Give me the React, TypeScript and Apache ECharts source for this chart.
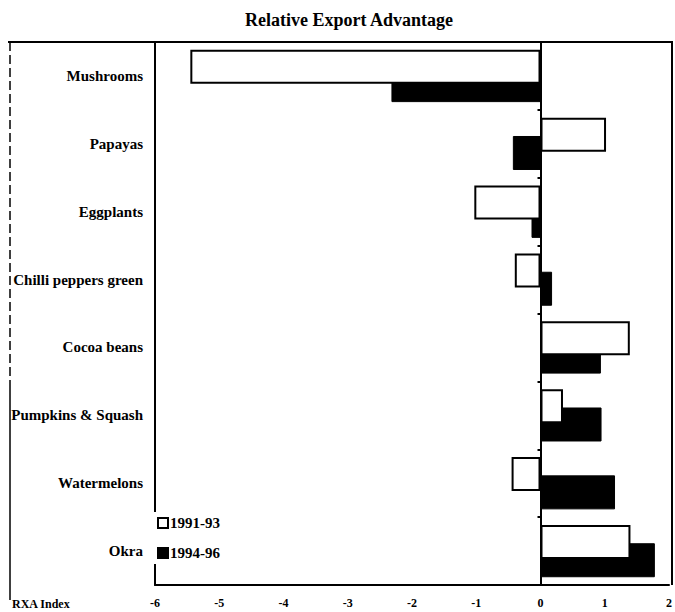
import React, { useEffect, useRef } from "react";
import * as echarts from "echarts";

const categories = [
  "Mushrooms",
  "Papayas",
  "Eggplants",
  "Chilli peppers green",
  "Cocoa beans",
  "Pumpkins & Squash",
  "Watermelons",
  "Okra",
];
const period1Name = "1991-93";
const period2Name = "1994-96";
const period1Values = [-5.45, 1.02, -1.03, -0.4, 1.39, 0.35, -0.45, 1.4];
const period2Values = [-2.32, -0.43, -0.14, 0.18, 0.94, 0.95, 1.16, 1.78];
const xMin = -6;
const xMax = 2;
const xStep = 1;
const titleText = "Relative Export Advantage";
const axisNameText = "RXA Index";

const SERIF = "'Liberation Serif', 'DejaVu Serif', serif";

export default function App() {
  const ref = useRef<HTMLDivElement>(null);
  useEffect(() => {
    if (!ref.current) return;
    const chart = echarts.init(ref.current, undefined, { renderer: "svg" });
    chart.setOption({
      animation: false,
      backgroundColor: "#ffffff",
      grid: { left: 155, right: 3, top: 42, bottom: 27, show: false },
      xAxis: {
        type: "value",
        min: xMin,
        max: xMax,
        interval: xStep,
        position: "bottom",
        axisLine: { show: true, onZero: false, lineStyle: { color: "#000", width: 2 } },
        axisTick: { show: false },
        splitLine: { show: false },
        axisLabel: {
          margin: 12,
          color: "#000",
          fontFamily: SERIF,
          fontWeight: "bold",
          fontSize: 12,
        },
      },
      yAxis: [
        {
          type: "category",
          data: categories,
          inverse: true,
          position: "left",
          axisLine: { show: true, onZero: false, lineStyle: { color: "#000", width: 2 } },
          axisTick: { show: false },
          axisLabel: {
            margin: 12,
            color: "#000",
            fontFamily: SERIF,
            fontWeight: "bold",
            fontSize: 15,
          },
        },
        {
          type: "category",
          data: categories,
          inverse: true,
          position: "left",
          axisLine: { show: true, onZero: true, lineStyle: { color: "#000", width: 2 } },
          axisTick: { show: true, length: 3, lineStyle: { color: "#000", width: 2 } },
          axisLabel: { show: false },
        },
      ],
      legend: {
        orient: "vertical",
        left: 157,
        top: 515,
        padding: 0,
        itemGap: 14,
        itemWidth: 10,
        itemHeight: 10,
        icon: "rect",
        data: [period1Name, period2Name],
        textStyle: {
          color: "#000",
          fontFamily: SERIF,
          fontWeight: "bold",
          fontSize: 15,
          lineHeight: 16,
          padding: [0, 0, 0, -3],
        },
      },
      series: [
        {
          name: period1Name,
          type: "bar",
          yAxisIndex: 0,
          data: period1Values,
          barWidth: 34,
          barGap: "-46%",
          z: 3,
          itemStyle: { color: "#fff", borderColor: "#000", borderWidth: 2 },
        },
        {
          name: period2Name,
          type: "bar",
          yAxisIndex: 0,
          data: period2Values,
          barWidth: 34,
          barGap: "-46%",
          z: 2,
          itemStyle: { color: "#000", borderColor: "#000", borderWidth: 1 },
        },
      ],
      graphic: [
        {
          type: "text",
          x: 349,
          y: 20,
          style: {
            text: titleText,
            fill: "#000",
            font: `bold 18px ${SERIF}`,
            textAlign: "center",
            textVerticalAlign: "middle",
          },
        },
        {
          type: "line",
          z: 10,
          shape: { x1: 8, y1: 42, x2: 673, y2: 42 },
          style: { stroke: "#000", lineWidth: 2 },
        },
        {
          type: "line",
          z: 10,
          shape: { x1: 672, y1: 42, x2: 672, y2: 585 },
          style: { stroke: "#000", lineWidth: 2 },
        },
        {
          type: "line",
          z: 10,
          shape: { x1: 10, y1: 42, x2: 10, y2: 380 },
          style: { stroke: "#000", lineWidth: 1.5, lineDash: [9, 4] },
        },
        {
          type: "line",
          z: 10,
          shape: { x1: 10, y1: 380, x2: 10, y2: 600 },
          style: { stroke: "#000", lineWidth: 1.5 },
        },
        {
          type: "rect",
          z: 10,
          shape: { x: 150, y: 512, width: 6.5, height: 52 },
          style: { fill: "#fff" },
        },
        {
          type: "text",
          x: 12,
          y: 604,
          style: {
            text: axisNameText,
            fill: "#000",
            font: `bold 12px ${SERIF}`,
            textVerticalAlign: "middle",
          },
        },
      ],
    });
    return () => chart.dispose();
  }, []);
  return (
    <div
      ref={ref}
      style={{ position: "absolute", left: 0, top: 0, width: 675, height: 612 }}
    />
  );
}
